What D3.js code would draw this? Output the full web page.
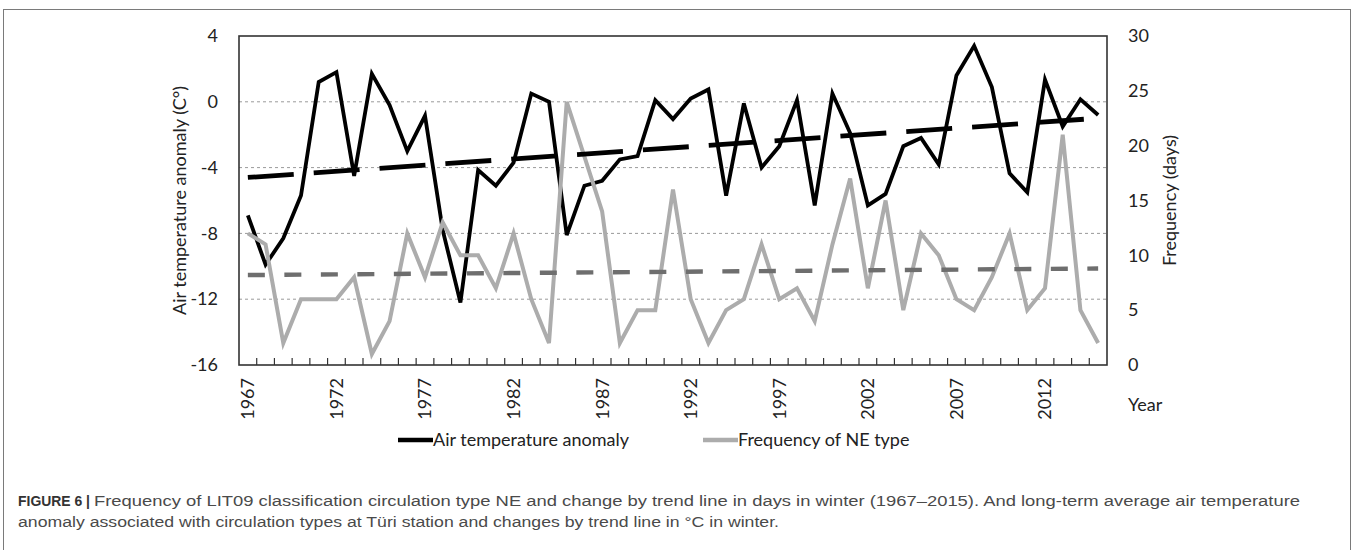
<!DOCTYPE html>
<html>
<head>
<meta charset="utf-8">
<script src="https://cdn.jsdelivr.net/npm/d3@7"></script>
<style>
  body { margin: 0; background: #fff; }
  svg { display: block; }
</style>
</head>
<body>
<svg id="chart" width="1355" height="550"></svg>
<script>
// winter values 1967-2015
const years = d3.range(1967, 2016);
const tempAnomaly = [
  -6.9, -9.9, -8.3, -5.7, 1.2, 1.8, -4.5, 1.7, -0.2, -3.0,
  -0.85, -7.8, -12.2, -4.15, -5.1, -3.7, 0.5, 0.0, -8.1, -5.1,
  -4.8, -3.5, -3.3, 0.1, -1.05, 0.2, 0.75, -5.7, -0.1, -4.0,
  -2.7, 0.1, -6.3, 0.5, -1.9, -6.3, -5.6, -2.7, -2.2, -3.8,
  1.6, 3.4, 0.9, -4.35, -5.5, 1.35, -1.5, 0.15, -0.8
];
const neFrequency = [
  12, 11, 2, 6, 6, 6, 8, 1, 4, 12,
  8, 13, 10, 10, 7, 12, 6, 2, 24, 19,
  14, 2, 5, 5, 16, 6, 2, 5, 6, 11,
  6, 7, 4, 11, 17, 7, 15, 5, 12, 10,
  6, 5, 8, 12, 5, 7, 21, 5, 2
];
// trend line values at 1967 and 2015
const tempTrend = [-4.6, -1.0];
const freqTrend = [8.2, 8.8];

const tempTicks = [4, 0, -4, -8, -12, -16];
const freqTicks = [0, 5, 10, 15, 20, 25, 30];
const gridTicks = [0, -4, -8, -12];
const yearLabels = [1967, 1972, 1977, 1982, 1987, 1992, 1997, 2002, 2007, 2012];

const FONT = "Lato, 'Open Sans', sans-serif";
const plot = {left: 239, right: 1107, top: 36, bottom: 365};

const svg = d3.select("#chart");

// outer figure border
svg.append("rect")
    .attr("x", 3.5).attr("y", 9.5)
    .attr("width", 1347).attr("height", 600)
    .attr("fill", "none")
    .attr("stroke", "#7a7a7a")
    .attr("stroke-width", 1);

let x = d3.scaleBand()
    .domain(years)
    .range([plot.left, plot.right])
    .padding(0);
let xc = d => x(d) + x.bandwidth() / 2;
let yTemp = d3.scaleLinear().domain([-16, 4]).range([plot.bottom, plot.top]);
let yFreq = d3.scaleLinear().domain([0, 30]).range([plot.bottom, plot.top]);

// dotted gridlines
svg.append("g").selectAll("line").data(gridTicks).enter()
    .append("line")
    .attr("x1", plot.left).attr("x2", plot.right)
    .attr("y1", d => yTemp(d)).attr("y2", d => yTemp(d))
    .attr("stroke", "#9a9a9a")
    .attr("stroke-width", 1)
    .attr("stroke-dasharray", "3,3");

// left axis labels (plain hyphen minus like the original)
let leftAxis = svg.append("g")
    .attr("transform", `translate(${plot.left}, 0)`)
    .call(d3.axisLeft(yTemp).tickValues(tempTicks).tickSize(0).tickPadding(21).tickFormat(d => String(d)));
leftAxis.select(".domain").remove();
leftAxis.selectAll("text")
    .style("font-family", FONT).style("font-size", "18px").attr("fill", "#222");

// right axis labels
let rightAxis = svg.append("g")
    .attr("transform", `translate(${plot.right}, 0)`)
    .call(d3.axisRight(yFreq).tickValues(freqTicks).tickSize(0).tickPadding(21));
rightAxis.select(".domain").remove();
rightAxis.selectAll("text")
    .style("font-family", FONT).style("font-size", "18px").attr("fill", "#222");

// bottom axis: tick marks on category boundaries, rotated year labels
let bottomAxis = svg.append("g")
    .attr("transform", `translate(0, ${plot.bottom})`)
    .call(d3.axisBottom(x).tickValues(yearLabels).tickSize(0));
bottomAxis.select(".domain").remove();
bottomAxis.selectAll("text")
    .style("font-family", FONT).style("font-size", "18px").attr("fill", "#222")
    .attr("transform", "rotate(-90)")
    .attr("x", -13).attr("y", 0).attr("dy", "0.36em")
    .style("text-anchor", "end");
svg.append("g").selectAll("line").data(years.slice(1)).enter()
    .append("line")
    .attr("x1", d => x(d)).attr("x2", d => x(d))
    .attr("y1", plot.bottom).attr("y2", plot.bottom - 7)
    .attr("stroke", "#333").attr("stroke-width", 1.2);

// plot frame
svg.append("rect")
    .attr("x", plot.left).attr("y", plot.top)
    .attr("width", plot.right - plot.left)
    .attr("height", plot.bottom - plot.top)
    .attr("fill", "none")
    .attr("stroke", "#333")
    .attr("stroke-width", 1.6);

// data lines
let tempLine = d3.line().x((d, i) => xc(years[i])).y(d => yTemp(d));
let freqLine = d3.line().x((d, i) => xc(years[i])).y(d => yFreq(d));

svg.append("path").datum(tempAnomaly)
    .attr("d", tempLine)
    .attr("fill", "none").attr("stroke", "#000")
    .attr("stroke-width", 3.8).attr("stroke-linejoin", "miter");
svg.append("path").datum(neFrequency)
    .attr("d", freqLine)
    .attr("fill", "none").attr("stroke", "#acacac")
    .attr("stroke-width", 4).attr("stroke-linejoin", "miter");

// trend lines
let ends = [years[0], years[years.length - 1]];
svg.append("line")
    .attr("x1", xc(ends[0])).attr("x2", xc(ends[1]))
    .attr("y1", yTemp(tempTrend[0])).attr("y2", yTemp(tempTrend[1]))
    .attr("stroke", "#000").attr("stroke-width", 4.8)
    .attr("stroke-dasharray", "46,20");
svg.append("line")
    .attr("x1", xc(ends[0])).attr("x2", xc(ends[1]))
    .attr("y1", yFreq(freqTrend[0])).attr("y2", yFreq(freqTrend[1]))
    .attr("stroke", "#6e6e6e").attr("stroke-width", 4.4)
    .attr("stroke-dasharray", "17,19.5");

// axis titles
svg.append("text")
    .attr("transform", `translate(180, ${(plot.top + plot.bottom) / 2}) rotate(-90)`)
    .attr("dy", "0.35em")
    .style("text-anchor", "middle")
    .style("font-family", FONT).style("font-size", "18px").attr("fill", "#222")
    .text("Air temperature anomaly (C°)");
svg.append("text")
    .attr("transform", `translate(1170, ${(plot.top + plot.bottom) / 2}) rotate(-90)`)
    .attr("dy", "0.35em")
    .style("text-anchor", "middle")
    .style("font-family", FONT).style("font-size", "18px").attr("fill", "#222")
    .text("Frequency (days)");
svg.append("text")
    .attr("x", 1128).attr("y", 405).attr("dy", "0.35em")
    .style("font-family", FONT).style("font-size", "18px").attr("fill", "#222")
    .text("Year");

// legend
const legendItems = [
  {label: "Air temperature anomaly", color: "#000", x: 398},
  {label: "Frequency of NE type", color: "#acacac", x: 703}
];
let legend = svg.append("g").selectAll("g").data(legendItems).enter()
    .append("g")
    .attr("transform", d => `translate(${d.x}, 440)`);
legend.append("line")
    .attr("x1", 0).attr("x2", 35)
    .attr("stroke", d => d.color).attr("stroke-width", 4.5);
legend.append("text")
    .attr("x", 35).attr("dy", "0.35em")
    .style("font-family", FONT).style("font-size", "18px").attr("fill", "#222")
    .text(d => d.label);

// caption
const CAP_FONT = "'Liberation Sans', Arial, sans-serif";
svg.append("text")
    .attr("x", 18).attr("y", 506)
    .style("font-family", CAP_FONT).style("font-size", "15.5px").style("font-weight", "bold")
    .attr("fill", "#333")
    .attr("textLength", 72).attr("lengthAdjust", "spacingAndGlyphs")
    .text("FIGURE 6 |");
svg.append("text")
    .attr("x", 94).attr("y", 506)
    .style("font-family", CAP_FONT).style("font-size", "15.5px")
    .attr("fill", "#4a4a4a")
    .attr("textLength", 1206).attr("lengthAdjust", "spacingAndGlyphs")
    .text("Frequency of LIT09 classification circulation type NE and change by trend line in days in winter (1967–2015). And long-term average air temperature");
svg.append("text")
    .attr("x", 18).attr("y", 527)
    .style("font-family", CAP_FONT).style("font-size", "15.5px")
    .attr("fill", "#4a4a4a")
    .attr("textLength", 761).attr("lengthAdjust", "spacingAndGlyphs")
    .text("anomaly associated with circulation types at Türi station and changes by trend line in °C in winter.");
</script>
</body>
</html>
